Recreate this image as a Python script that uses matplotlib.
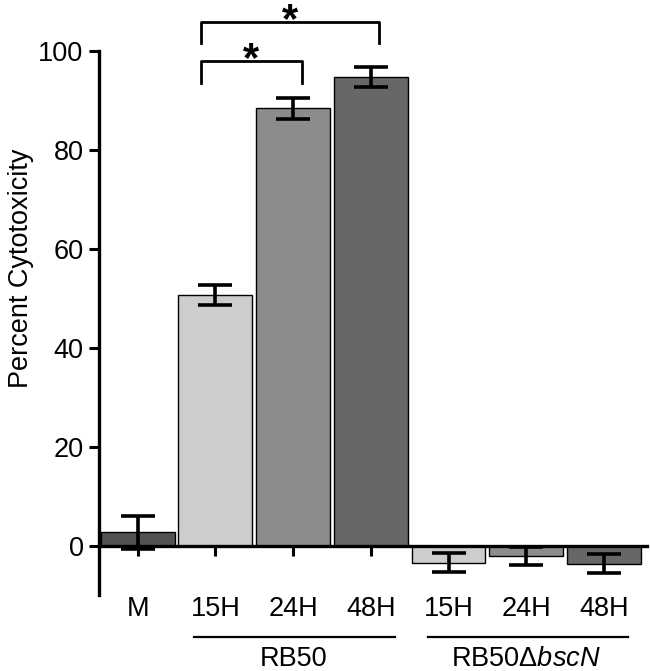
import matplotlib
matplotlib.use("Agg")
import matplotlib.pyplot as plt
import matplotlib.transforms as mtransforms

plt.rcParams['font.family'] = ['Liberation Sans', 'DejaVu Sans']
plt.rcParams['mathtext.fontset'] = 'custom'
plt.rcParams['mathtext.rm'] = 'Liberation Sans'
plt.rcParams['mathtext.it'] = 'Liberation Sans:italic'

# Data
labels = ["M", "15H", "24H", "48H", "15H", "24H", "48H"]
values = [2.7, 50.7, 88.4, 94.7, -3.4, -2.0, -3.6]
errors = [3.4, 2.0, 2.1, 2.0, 2.0, 1.8, 2.0]
colors = ["#525252", "#cdcdcd", "#8c8c8c", "#676767", "#cdcdcd", "#8c8c8c", "#676767"]
groups = ["RB50", r"RB50Δ$\mathit{bscN}$"]
group_members = [[1, 2, 3], [4, 5, 6]]
# significance brackets: (left idx, right idx, bottom y, top y)
brackets = [(1, 2, 93.5, 98.0), (1, 3, 101.6, 105.9)]

fig = plt.figure(figsize=(6.5, 6.71), dpi=100)
ax = fig.add_axes([0.152, 0.113, 0.843, 0.811])

x = list(range(len(values)))
ax.bar(x, values, width=0.95, color=colors, edgecolor="black", linewidth=1.0, zorder=3)
ax.errorbar(x, values, yerr=errors, fmt="none", ecolor="black", elinewidth=2.6,
            capsize=12.5, capthick=2.6, zorder=4)

ax.set_xlim(-0.5, 6.55)
ax.set_ylim(-10, 100)
ax.set_yticks([0, 20, 40, 60, 80, 100])
ax.tick_params(axis='y', length=7, width=2.2, labelsize=19.5, pad=4)
ax.set_ylabel("Percent Cytotoxicity", fontsize=19.5)
ax.yaxis.set_label_coords(-0.118, 0.6)

for s in ["top", "right"]:
    ax.spines[s].set_visible(False)
ax.spines["left"].set_linewidth(2.4)
ax.spines["bottom"].set_position(("data", 0))
ax.spines["bottom"].set_linewidth(2.4)
ax.spines["bottom"].set_zorder(5)
ax.set_xticks(x[:4])
ax.tick_params(axis='x', length=7, width=2.2, labelbottom=False)

trans = mtransforms.blended_transform_factory(ax.transData, ax.transAxes)
for xi, lab in zip(x, labels):
    ax.text(xi, -0.026, lab, transform=trans, ha="center", va="center", fontsize=19.5)

for g, members in zip(groups, group_members):
    lo, hi = members[0] - 0.27, members[-1] + 0.31
    ax.plot([lo, hi], [-0.077, -0.077], transform=trans, color="black", lw=1.6, clip_on=False)
    ax.text((members[0] + members[-1]) / 2, -0.118, g, transform=trans,
            ha="center", va="center", fontsize=19.5)

for li, ri, yb, yt in brackets:
    xl, xr = x[li] - 0.19, x[ri] + 0.11
    ax.plot([xl, xl, xr, xr], [yb, yt, yt, yb], color="black", lw=2.0, clip_on=False, zorder=6)
    ax.text((xl + xr) / 2, yt + 0.2, "*", ha="center", va="center",
            fontsize=30, fontweight="bold", clip_on=False)

fig.savefig("out.png", dpi=100)
